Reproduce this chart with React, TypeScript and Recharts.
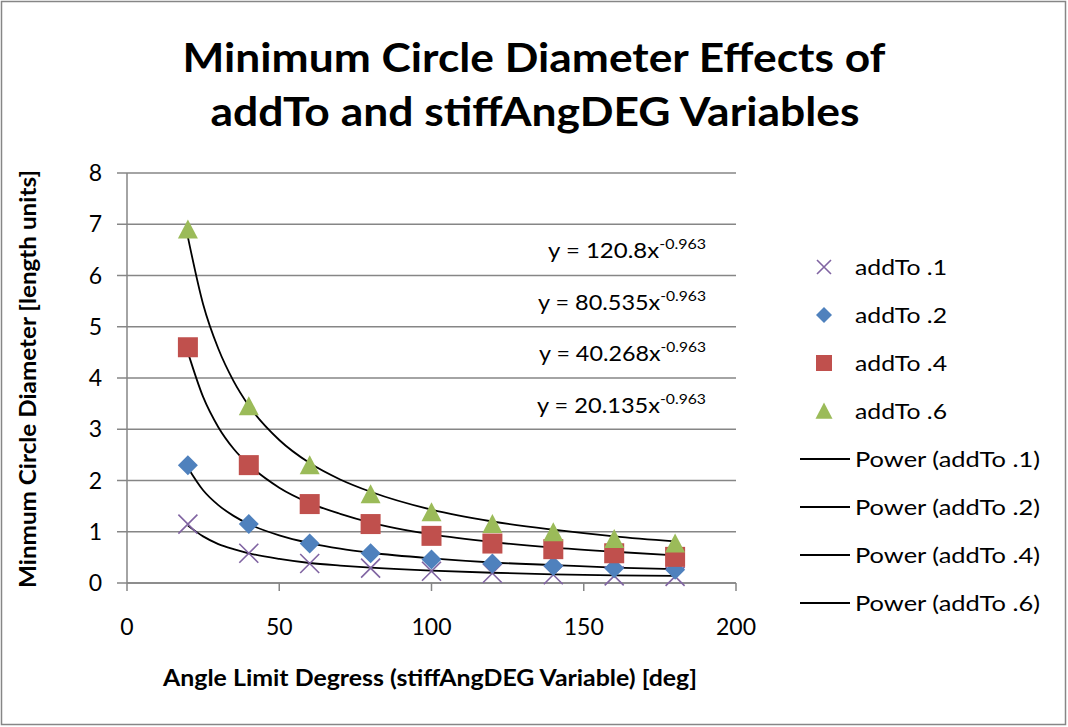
import React from 'react';
import { ComposedChart, Scatter, Line, XAxis, YAxis, CartesianGrid } from 'recharts';

// angle limit (deg) for every measured point
const angles = [20, 40, 60, 80, 100, 120, 140, 160, 180];

// minimum circle diameter
const addTo1 = [1.15, 0.58, 0.38, 0.29, 0.23, 0.19, 0.16, 0.14, 0.13];
const addTo2 = [2.3, 1.15, 0.77, 0.58, 0.46, 0.38, 0.33, 0.29, 0.26];
const addTo4 = [4.6, 2.3, 1.54, 1.15, 0.92, 0.77, 0.66, 0.58, 0.51];
const addTo6 = [6.9, 3.45, 2.3, 1.73, 1.38, 1.15, 0.99, 0.86, 0.77];

// power trendlines as drawn
const fitAngles = [20, 25, 30, 35, 40, 50, 60, 70, 80, 100, 120, 140, 160, 180];
const fit1 = [1.12, 0.91, 0.76, 0.66, 0.58, 0.47, 0.39, 0.34, 0.3, 0.24, 0.2, 0.17, 0.15, 0.14];
const fit2 = [2.25, 1.81, 1.52, 1.31, 1.15, 0.93, 0.78, 0.67, 0.59, 0.48, 0.4, 0.35, 0.3, 0.27];
const fit4 = [4.5, 3.63, 3.04, 2.62, 2.31, 1.86, 1.56, 1.35, 1.18, 0.95, 0.8, 0.69, 0.61, 0.54];
const fit6 = [6.75, 5.44, 4.57, 3.94, 3.46, 2.79, 2.34, 2.02, 1.78, 1.43, 1.2, 1.04, 0.91, 0.81];

const equations = ['120.8', '80.535', '40.268', '20.135'];
const exponent = '-0.963';

const xTicks = [0, 50, 100, 150, 200];
const yTicks = [0, 1, 2, 3, 4, 5, 6, 7, 8];

const PURPLE = '#8064A2';
const BLUE = '#4F81BD';
const RED = '#C0504D';
const GREEN = '#9BBB59';
const GRID = '#868686';
const FONT = 'Lato, "Open Sans", sans-serif';

const pts = (xs: number[], ys: number[]) => xs.map((x, i) => ({ x, y: ys[i] }));

const Cross = ({ cx, cy, s = 9.5 }: any) => (
  <path d={`M${cx - s},${cy - s}L${cx + s},${cy + s}M${cx - s},${cy + s}L${cx + s},${cy - s}`} stroke={PURPLE} strokeWidth={1.6} fill="none" />
);
const Diamond = ({ cx, cy, s = 10 }: any) => (
  <polygon points={`${cx},${cy - s} ${cx + s},${cy} ${cx},${cy + s} ${cx - s},${cy}`} fill={BLUE} />
);
const Square = ({ cx, cy, s = 10 }: any) => (
  <rect x={cx - s} y={cy - s} width={2 * s} height={2 * s} fill={RED} />
);
const Triangle = ({ cx, cy, s = 10 }: any) => (
  <polygon points={`${cx},${cy - s} ${cx + s},${cy + s * 0.9} ${cx - s},${cy + s * 0.9}`} fill={GREEN} />
);

const legendItems = [
  { name: 'addTo .1', icon: 'x' },
  { name: 'addTo .2', icon: 'diamond' },
  { name: 'addTo .4', icon: 'square' },
  { name: 'addTo .6', icon: 'triangle' },
  { name: 'Power (addTo .1)', icon: 'line' },
  { name: 'Power (addTo .2)', icon: 'line' },
  { name: 'Power (addTo .4)', icon: 'line' },
  { name: 'Power (addTo .6)', icon: 'line' },
];
const eqLengths = [158, 168, 167, 169];

export default function App() {
  const fits = [fit1, fit2, fit4, fit6];
  return (
    <div style={{ position: 'relative', width: 1068, height: 727, background: '#fff' }}>
      <style>{'body{margin:0}'}</style>
      <div style={{ position: 'absolute', left: 0, top: 0 }}>
        <ComposedChart width={1068} height={727} margin={{ top: 173, right: 332, bottom: 104, left: 0 }}>
          <CartesianGrid horizontal vertical={false} stroke={GRID} strokeWidth={1.5} />
          <XAxis
            type="number"
            dataKey="x"
            domain={[0, 200]}
            ticks={xTicks}
            height={40}
            stroke={GRID}
            strokeWidth={1.5}
            tickSize={8}
            tickMargin={28}
            tick={{ fill: '#000', fontSize: 23, fontFamily: FONT }}
          />
          <YAxis
            type="number"
            dataKey="y"
            domain={[0, 8]}
            ticks={yTicks}
            width={127}
            stroke={GRID}
            strokeWidth={1.5}
            tickSize={10}
            tickMargin={15}
            tick={{ fill: '#000', fontSize: 23, fontFamily: FONT }}
          />
          <Scatter data={pts(angles, addTo1)} dataKey="y" shape={(p: any) => <Cross {...p} />} isAnimationActive={false} />
          <Scatter data={pts(angles, addTo2)} dataKey="y" shape={(p: any) => <Diamond {...p} />} isAnimationActive={false} />
          <Scatter data={pts(angles, addTo4)} dataKey="y" shape={(p: any) => <Square {...p} />} isAnimationActive={false} />
          <Scatter data={pts(angles, addTo6)} dataKey="y" shape={(p: any) => <Triangle {...p} />} isAnimationActive={false} />
          {fits.map((f, i) => (
            <Line
              key={i}
              data={pts(fitAngles, f)}
              dataKey="y"
              type="monotone"
              stroke="#000"
              strokeWidth={1.8}
              dot={false}
              activeDot={false}
              isAnimationActive={false}
            />
          ))}
        </ComposedChart>
      </div>
      <svg width={1068} height={727} style={{ position: 'absolute', left: 0, top: 0, pointerEvents: 'none' }} fontFamily={FONT}>
        <rect x={1.5} y={1.5} width={1064} height={723} fill="none" stroke={GRID} strokeWidth={1.5} />
        <text x={534} y={72} textAnchor="middle" fontSize={40} fontWeight="bold" textLength={703} lengthAdjust="spacingAndGlyphs">
          Minimum Circle Diameter Effects of
        </text>
        <text x={535} y={126} textAnchor="middle" fontSize={40} fontWeight="bold" textLength={649} lengthAdjust="spacingAndGlyphs">
          addTo and stiffAngDEG Variables
        </text>
        <text x={430} y={686} textAnchor="middle" fontSize={22} fontWeight="bold" textLength={534} lengthAdjust="spacingAndGlyphs">
          Angle Limit Degress (stiffAngDEG Variable) [deg]
        </text>
        <text
          x={0}
          y={0}
          transform="translate(36,379) rotate(-90)"
          textAnchor="middle"
          fontSize={22}
          fontWeight="bold"
          textLength={418}
          lengthAdjust="spacingAndGlyphs"
        >
          Minmum Circle Diameter [length units]
        </text>
        {equations.map((c, i) => (
          <text
            key={c}
            x={706}
            y={258 + i * 51.7}
            textAnchor="end"
            fontSize={21}
            textLength={eqLengths[i]}
            lengthAdjust="spacingAndGlyphs"
          >
            {`y = ${c}x`}
            <tspan dy={-9} fontSize={14}>{exponent}</tspan>
          </text>
        ))}
        {legendItems.map((it, i) => {
          const cy = 267 + i * 48;
          return (
            <g key={it.name}>
              {it.icon === 'x' && <Cross cx={824} cy={cy} s={7} />}
              {it.icon === 'diamond' && <Diamond cx={824} cy={cy} s={8} />}
              {it.icon === 'square' && <Square cx={824} cy={cy} s={8} />}
              {it.icon === 'triangle' && <Triangle cx={824} cy={cy} s={8.5} />}
              {it.icon === 'line' && <line x1={800} x2={850} y1={cy} y2={cy} stroke="#000" strokeWidth={1.8} />}
              <text
                x={855}
                y={cy + 8}
                fontSize={22}
                textLength={it.icon === 'line' ? 185 : 92}
                lengthAdjust="spacingAndGlyphs"
              >
                {it.name}
              </text>
            </g>
          );
        })}
      </svg>
    </div>
  );
}
